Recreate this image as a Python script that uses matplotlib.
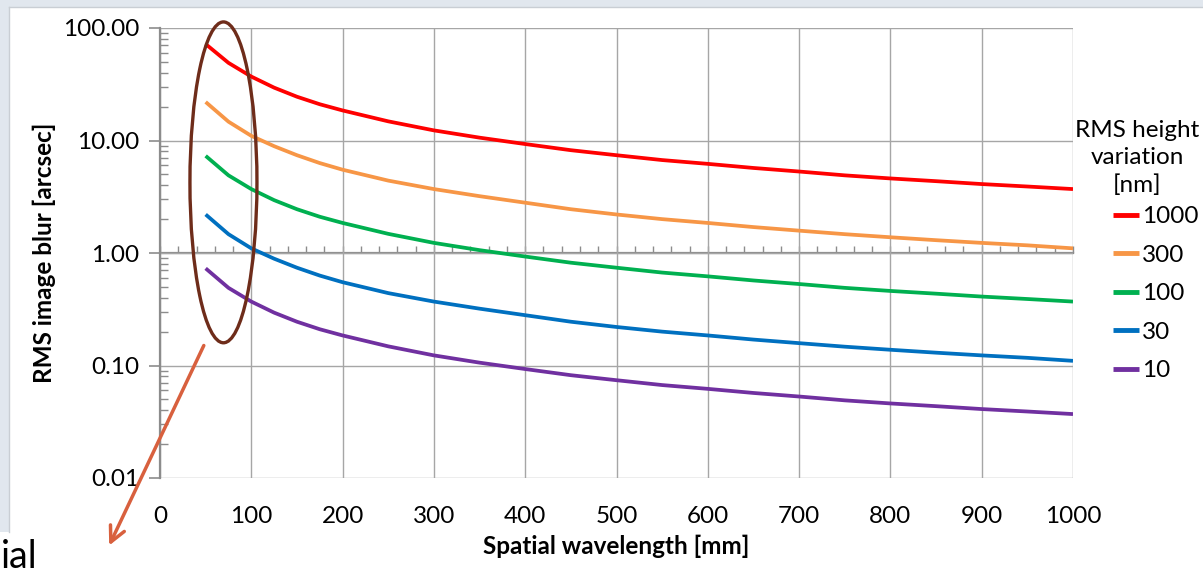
import numpy as np
import matplotlib
matplotlib.use('Agg')
import matplotlib.pyplot as plt
from matplotlib.patches import Ellipse, Rectangle
from matplotlib.ticker import MultipleLocator, LogLocator, NullFormatter

plt.rcParams['font.family'] = ['Lato', 'DejaVu Sans']

# Spatial wavelength [mm]
wavelength = [50, 75, 100, 125, 150, 175, 200, 250, 300, 350, 400, 450, 500,
              550, 600, 650, 700, 750, 800, 850, 900, 950, 1000]

# RMS image blur [arcsec], one list per RMS height variation
blur_1000 = [72, 49, 37, 29.5, 24.5, 21, 18.5, 14.8, 12.3, 10.6, 9.3, 8.2, 7.4,
             6.7, 6.2, 5.7, 5.3, 4.9, 4.6, 4.35, 4.1, 3.9, 3.7]
blur_300 = [22, 14.7, 11, 8.9, 7.4, 6.3, 5.5, 4.4, 3.7, 3.2, 2.8, 2.45, 2.2,
            2.0, 1.85, 1.7, 1.58, 1.47, 1.38, 1.3, 1.23, 1.17, 1.1]
blur_100 = [7.3, 4.9, 3.7, 2.95, 2.45, 2.1, 1.85, 1.48, 1.23, 1.06, 0.93, 0.82, 0.74,
            0.67, 0.62, 0.57, 0.53, 0.49, 0.46, 0.435, 0.41, 0.39, 0.37]
blur_30 = [2.2, 1.47, 1.1, 0.89, 0.74, 0.63, 0.55, 0.44, 0.37, 0.32, 0.28, 0.245, 0.22,
           0.2, 0.185, 0.17, 0.158, 0.147, 0.138, 0.13, 0.123, 0.117, 0.11]
blur_10 = [0.73, 0.49, 0.37, 0.295, 0.245, 0.21, 0.185, 0.148, 0.123, 0.106, 0.093, 0.082, 0.074,
           0.067, 0.062, 0.057, 0.053, 0.049, 0.046, 0.0435, 0.041, 0.039, 0.037]

labels = ['1000', '300', '100', '30', '10']
colors = ['#ff0000', '#f79646', '#00b050', '#0070c0', '#7030a0']
series = [blur_1000, blur_300, blur_100, blur_30, blur_10]

y_ticks = [0.01, 0.1, 1, 10, 100]
y_ticklabels = ['0.01', '0.10', '1.00', '10.00', '100.00']

FS = 17.5
W, H = 1203, 574
fig = plt.figure(figsize=(W / 100, H / 100), dpi=100)
fig.patch.set_facecolor('white')

# slide frame in gray-blue
fig.add_artist(Rectangle((0, 1 - 7 / H), 1, 7 / H, transform=fig.transFigure,
                         facecolor='#e1e7ee', edgecolor='none'))
fig.add_artist(Rectangle((0, 1 - 532 / H), 9 / W, 532 / H, transform=fig.transFigure,
                         facecolor='#e1e7ee', edgecolor='none'))
fig.add_artist(plt.Line2D([9 / W, 1], [1 - 7 / H, 1 - 7 / H], transform=fig.transFigure,
                          color='#c9ced4', lw=1))
fig.add_artist(plt.Line2D([9 / W, 9 / W], [1 - 532 / H, 1 - 7 / H], transform=fig.transFigure,
                          color='#c9ced4', lw=1))

ax = fig.add_axes([160 / W, 1 - 478 / H, 913 / W, 450 / H])
for vals, lab, col in zip(series, labels, colors):
    ax.plot(wavelength, vals, color=col, lw=2.7, label=lab, solid_capstyle='butt')

ax.set_yscale('log')
ax.set_xlim(0, 1000)
ax.set_ylim(0.01, 100)
ax.set_yticks(y_ticks)
ax.set_yticklabels(y_ticklabels)
ax.yaxis.set_minor_locator(LogLocator(base=10, subs=np.arange(2, 10)))
ax.yaxis.set_minor_formatter(NullFormatter())
ax.set_xticks(np.arange(0, 1001, 100))
ax.grid(True, which='major', color='#a6a6a6', lw=1)
ax.set_axisbelow(True)

for s in ['top', 'right', 'bottom']:
    ax.spines[s].set_visible(False)
ax.spines['left'].set_color('#8c8c8c')
ax.spines['left'].set_linewidth(1.6)

ax.tick_params(axis='x', length=0, labelsize=FS, pad=20, colors='black')
ax.tick_params(axis='y', which='major', length=8, width=1.2, color='#8c8c8c',
               labelsize=FS, pad=7)
ax.tick_params(axis='y', which='minor', direction='in', length=6, width=1, color='#8c8c8c')

# horizontal axis crosses at 1.00
sec = ax.secondary_xaxis(0.5)
sec.spines['top'].set_color('#8c8c8c')
sec.spines['top'].set_linewidth(1.6)
sec.xaxis.set_major_locator(MultipleLocator(100))
sec.xaxis.set_minor_locator(MultipleLocator(20))
sec.tick_params(which='both', length=5, width=1, color='#8c8c8c', labeltop=False,
                labelbottom=False)

ax.set_xlabel('Spatial wavelength [mm]', fontsize=FS, fontweight='bold', labelpad=6)
ax.set_ylabel('RMS image blur [arcsec]', fontsize=FS, fontweight='bold', labelpad=5)

# legend title and entries
fig.text(1137 / W, 1 - 158 / H, 'RMS height\nvariation\n[nm]', fontsize=FS,
         ha='center', va='center', multialignment='center', linespacing=1.35)
leg = ax.legend(loc='upper left', bbox_to_anchor=(1113 / W, 1 - 206 / H),
                bbox_transform=fig.transFigure, frameon=False, fontsize=FS,
                handlelength=1.05, handletextpad=0.15, labelspacing=0.72,
                borderaxespad=0, borderpad=0)
for line in leg.get_lines():
    line.set_linewidth(3.5)

# annotation ellipse and arrow
ax.add_patch(Ellipse((0.0695, 0.657), 0.0734, 0.713, transform=ax.transAxes,
                     fill=False, edgecolor='#6e2c1a', lw=2.4, clip_on=False, zorder=5))
ax.annotate('', xy=(108 / W, 1 - 548 / H), xycoords='figure fraction',
            xytext=(205 / W, 1 - 343 / H), textcoords='figure fraction',
            arrowprops=dict(arrowstyle='->,head_length=1.1,head_width=0.55',
                            color='#d8603e', lw=2.5))

fig.text(1 / W, 1 - 568 / H, 'ial', fontsize=27, color='black', ha='left',
         va='baseline')

fig.savefig('out.png', dpi=100)
